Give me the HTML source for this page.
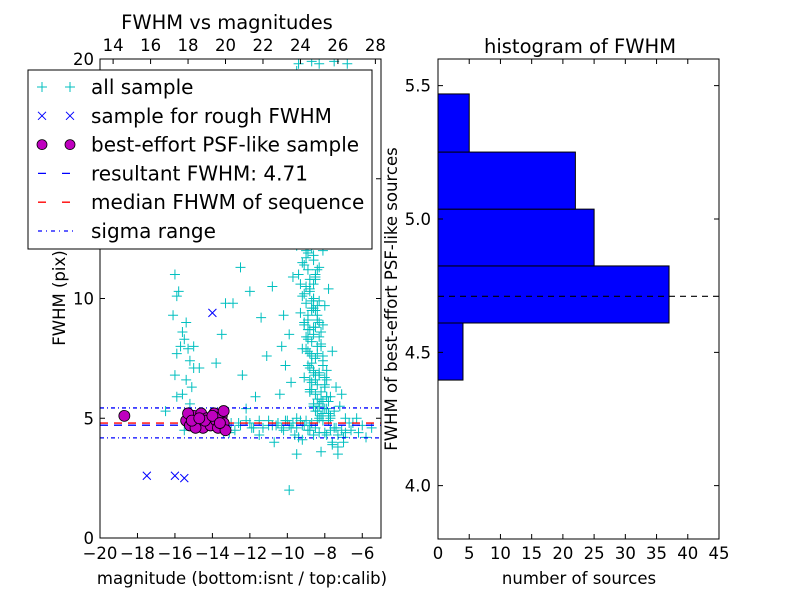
<!DOCTYPE html>
<html><head><meta charset="utf-8"><style>
body{margin:0;background:#fff;font-family:"Liberation Sans",sans-serif}
svg{display:block}
text{font-family:"DejaVu Sans","Liberation Sans",sans-serif}
</style></head><body>
<svg id="s" width="800" height="600">
<rect width="800" height="600" fill="#fff"/>
</svg>
<script>
const allMag=[-9.4,-9.5,-8.7,-8.3,-9.3,-9.1,-9.0,-9.3,-8.9,-9.2,-9.0,-8.8,-9.3,-9.1,-8.7,-9.5,-9.0,-8.6,-9.2,-8.9,-9.4,-8.5,-9.0,-8.8,-9.2,-8.6,-9.0,-8.7,-9.3,-8.4,-8.9,-9.1,-8.6,-8.2,-9.0,-8.7,-8.4,-9.2,-8.8,-8.5,-8.1,-8.9,-8.6,-8.3,-9.1,-8.7,-8.4,-8.0,-8.8,-8.5,-8.2,-7.8,-8.6,-8.3,-7.9,-7.5,-8.1,-7.7,-7.2,-6.9,-7.4,-6.6,-6.2,-6.0,-7.0,-7.6,-8.2,-7.3,-9.5,-8.6,-9.8,-10.1,-10.4,-9.9,-10.2,-9.7,-10.0,-9.6,-10.5,-9.8,-10.3,-10.8,-11.1,-11.7,-11.4,-12.0,-11.2,-12.5,-12.9,-13.5,-13.8,-13.3,-12.4,-12.2,-11.5,-10.7,-9.9,-7.9,-7.6,-7.4,-7.1,-8.0,-7.8,-8.3,-8.1,-8.4,-8.2,-8.5,-8.0,-7.5,-6.8,
-13,-12.5,-12,-11.5,-11,-10.5,-10,-9.8,-9.5,-9.2,-9.0,-8.8,-10.2,-11.8,-12.8,-13.4,-14.5,-6.5,-7.8,-8.0,-6.3,-5.8,-5.5,-9.1,-8.9,-8.7,-8.5,-8.3,-8.1,-7.9,-7.7,-9.3,-8.6,-8.4,
-16,-15.8,-15.9,-16.1,-15.4,-15.6,-15.5,-15.7,-15.3,-15.9,-15.2,-15.0,-16.0,-15.4,-15.1,-15.6,-15.9,-15.2,-15.5,-16.5,-15.0,-14.7,
-8.9,-8.7,-9.1,-8.5,-8.8,-9.0,-8.6,-8.4,-8.8,-9.2,-8.7,-8.5,-8.9,-8.3,-8.6,
-8.8,-8.6,-8.4,-8.9,-8.7,-8.5,-8.3,-8.8,-8.6,-8.4,-8.2,-8.9,-8.7,-8.5,-8.3,-8.1,-8.8,-8.6,-8.4,-8.2,-8.0,-8.7,-8.5,-8.3,-8.1,-7.9,-8.6,-8.4,-8.2,-8.0,-7.8,-8.5,-8.3,-8.1,-7.9,-7.7,-8.4,-8.2,-8.0,-7.8,-7.6,-9.0,-8.9,-9.1,-8.8,-9.0,-8.7,-9.2,-8.9,-9.0,-8.8,
-10.5,-10.3,-10.1,-9.9,-9.7,-9.5,-9.3,-9.1,-8.9,-8.7,-8.5,-8.3,-8.1,-7.9,-7.7,-7.5,-7.3,-7.1,-6.9,-6.7,-11.3,-11.0,-10.8,-10.6,-12.2,-11.9,-12.6,-13.1,-9.6,-9.4,-9.2,-7.6,-7.3,-7.0,-6.8];
const allFwhm=[19.8,19.5,19.9,19.8,18,17,16.5,15.5,15,14.5,14,13.5,13.2,12.8,12.5,12.2,12,11.8,11.5,11.2,11,10.8,10.5,10.3,10.1,10,9.8,9.6,9.4,9.3,9.1,8.9,8.8,8.6,8.4,8.2,8.0,7.9,7.7,7.5,7.4,7.2,7.0,6.9,6.7,6.5,6.4,6.3,6.1,6.0,5.8,5.7,5.6,5.5,5.4,5.3,5.2,5.1,5.5,5.0,4.6,4.5,4.4,4.7,4.2,4.0,3.6,3.5,3.5,4.3,6.5,7.2,6.0,8.5,9.3,10.9,12.4,13.0,13.3,14.5,8.0,10.5,7.6,5.9,9.2,10.3,12.4,11.3,9.8,8.5,7.3,9.8,6.8,5.4,4.3,4.0,2.0,7.0,7.8,6.3,6.0,9.7,10.4,11.3,12.0,13.8,14.6,15.6,16.3,19.9,19.8,
4.8,4.7,4.8,4.9,4.7,4.8,4.9,4.6,5.0,4.7,4.9,4.5,4.5,4.6,4.5,4.4,4.8,4.8,4.9,4.4,5.0,4.2,4.6,9.0,8.3,7.6,6.8,9.9,8.9,6.6,5.9,10.6,11.6,
11.2,11.0,10.3,10.1,9.3,9.0,8.6,8.3,8.0,7.9,7.7,7.4,7.1,6.8,6.6,6.3,6.0,5.9,5.6,4.5,5.3,8.0,
7.1,8.7,9.5,10.2,11.0,6.2,7.9,9.6,5.3,6.6,13.0,12.1,10.9,8.4,5.0,
10.6,10.4,10.0,9.7,9.3,9.9,9.5,9.0,8.7,8.5,9.1,8.1,7.8,7.3,8.8,8.4,7.6,7.1,6.9,7.7,8.0,6.7,6.2,6.6,6.8,7.2,5.9,5.5,5.8,6.1,6.4,5.2,5.3,5.6,5.7,5.9,5.0,4.9,5.1,5.4,5.2,13.7,12.6,11.9,11.4,10.8,11.7,12.9,14.9,16.8,17.6,
4.7,4.8,4.6,4.9,4.7,4.8,4.6,4.9,4.7,4.5,4.8,4.6,4.4,4.9,4.3,4.5,4.6,4.3,4.5,4.4,4.8,4.6,4.9,4.7,4.7,4.9,4.6,4.8,4.4,4.3,4.2,4.1,3.9,3.8,4.0];
const roughMag=[-17.5,-16,-15.5,-14];
const roughFwhm=[2.6,2.6,2.5,9.4];
const bestMag=[-18.7,-15.4,-15.2,-15,-14.8,-14.6,-14.5,-14.3,-14.1,-13.9,-13.8,-13.7,-13.5,-13.4,-13.3,-15.3,-14.9,-14.4,-14.0,-13.6,-15.1,-13.4,-14.7];
const bestFwhm=[5.1,4.9,4.7,5.1,4.8,5.2,4.6,5.0,4.7,5.2,4.9,4.6,5.1,4.8,4.5,5.2,4.6,4.9,5.1,4.8,4.9,5.3,5.0];
const resultFwhm=4.71, medianFwhm=4.8, sigmaLo=4.18, sigmaHi=5.43;
const binEdges=[4.396,4.61,4.824,5.037,5.251,5.469];
const binCounts=[4,37,25,22,5];
const xTicksL=[-20,-18,-16,-14,-12,-10,-8,-6];
const topTicks=[14,16,18,20,22,24,26,28];
const yTicksL=[0,5,10,15,20];
const xTicksR=[0,5,10,15,20,25,30,35,40,45];
const yTicksR=[4.0,4.5,5.0,5.5];

const svg=document.getElementById('s');const NS='http://www.w3.org/2000/svg';
function mk(t,a,p){const e=document.createElementNS(NS,t);for(const k in a)e.setAttribute(k,a[k]);(p||svg).appendChild(e);return e;}
const L={x0:100,x1:381,y0:538,y1:59};
const sx=m=>L.x0+(m+20)*(L.x1-L.x0)/15;
const sy=f=>L.y0-f*(L.y0-L.y1)/20;
const stx=t=>sx(t-33.3);
const R={x0:438,x1:719,y0:539,y1:59};
const rx=c=>R.x0+c*(R.x1-R.x0)/45;
const ry=v=>R.y0-(v-3.8)*(R.y0-R.y1)/1.8;
const clipL=mk('clipPath',{id:'cl'});mk('rect',{x:L.x0,y:L.y1,width:L.x1-L.x0,height:L.y0-L.y1},clipL);
const gL=mk('g',{'clip-path':'url(#cl)'});

function hl(y,col,dash,name){const l=mk('line',{x1:L.x0,x2:L.x1,y1:y,y2:y,stroke:col,'stroke-width':1.3,'stroke-dasharray':dash},gL);}
allMag.forEach((m,i)=>{const x=sx(m),y=sy(allFwhm[i]);const p=mk('path',{d:`M${x-5},${y}h10M${x},${y-5}v10`,stroke:'#00bfbf','stroke-width':1},gL);});
hl(sy(sigmaHi),'#00f','4 3 1 3','sigma-upper-line');hl(sy(sigmaLo),'#00f','4 3 1 3','sigma-lower-line');
hl(sy(medianFwhm),'#f00','8 6','median-line');hl(sy(resultFwhm),'#00f','8 6','resultant-line');
roughMag.forEach((m,i)=>{const x=sx(m),y=sy(roughFwhm[i]);const p=mk('path',{d:`M${x-4},${y-4}l8,8M${x-4},${y+4}l8,-8`,stroke:'#00f','stroke-width':1},gL);});
bestMag.forEach((m,i)=>{const c=mk('circle',{cx:sx(m),cy:sy(bestFwhm[i]),r:5.5,fill:'#bf00bf',stroke:'#000','stroke-width':0.8},gL);});
mk('rect',{x:L.x0,y:L.y1,width:L.x1-L.x0,height:L.y0-L.y1,fill:'none',stroke:'#000'});
function txt(x,y,s,sz,anc,extra){const t=mk('text',Object.assign({x:x,y:y,'font-size':sz,'text-anchor':anc||'middle'},extra||{}));t.textContent=s;return t;}
xTicksL.forEach(t=>{const x=sx(t);mk('path',{d:`M${x},${L.y0}v-5`,stroke:'#000'});const e=txt(x,559,t<0?'\u2212'+(-t):t,16.5);});
topTicks.forEach(t=>{const x=stx(t);mk('path',{d:`M${x},${L.y1}v5`,stroke:'#000'});const e=txt(x,51,t,16.5);});
yTicksL.forEach(t=>{const y=sy(t);mk('path',{d:`M${L.x0},${y}h5M${L.x1},${y}h-5`,stroke:'#000'});const e=txt(94,y+6,t,16.5,'end');});
let e;
e=txt(227,29,'FWHM vs magnitudes',19.5);
e=txt(242,584,'magnitude (bottom:isnt / top:calib)',16.5);
e=txt(65,298,'FWHM (pix)',16.5,'middle',{transform:'rotate(-90 65 298)'});
const lg=mk('g',{});
mk('rect',{x:28,y:70,width:344,height:179,fill:'#fff',stroke:'#000'},lg);
const labels=['all sample','sample for rough FWHM','best-effort PSF-like sample','resultant FWHM: 4.71','median FHWM of sequence','sigma range'];
labels.forEach((s,i)=>{const y=87+i*28.8;
 if(i==0){[42,70].forEach(x=>mk('path',{d:`M${x-5},${y}h10M${x},${y-5}v10`,stroke:'#00bfbf'},lg));}
 if(i==1){[42,70].forEach(x=>mk('path',{d:`M${x-4},${y-4}l8,8M${x-4},${y+4}l8,-8`,stroke:'#00f'},lg));}
 if(i==2){[42,70].forEach(x=>mk('circle',{cx:x,cy:y,r:5,fill:'#bf00bf',stroke:'#000','stroke-width':0.8},lg));}
 if(i==3)mk('line',{x1:38,x2:76,y1:y,y2:y,stroke:'#00f','stroke-width':1.3,'stroke-dasharray':'8 16'},lg);
 if(i==4)mk('line',{x1:38,x2:76,y1:y,y2:y,stroke:'#f00','stroke-width':1.3,'stroke-dasharray':'8 16'},lg);
 if(i==5)mk('line',{x1:38,x2:76,y1:y,y2:y,stroke:'#00f','stroke-width':1.3,'stroke-dasharray':'4 4 1 4'},lg);
 const t=txt(91,y+7,s,20,'start');lg.appendChild(t);});
binCounts.forEach((c,i)=>{const y=ry(binEdges[i+1]),h=ry(binEdges[i])-y;const r=mk('rect',{x:rx(0),y:y,width:rx(c)-rx(0),height:h,fill:'#00f',stroke:'#000'});});
e=mk('line',{x1:R.x0,x2:R.x1,y1:ry(resultFwhm),y2:ry(resultFwhm),stroke:'#000','stroke-width':1.2,'stroke-dasharray':'6 5'});
mk('rect',{x:R.x0,y:R.y1,width:R.x1-R.x0,height:R.y0-R.y1,fill:'none',stroke:'#000'});
xTicksR.forEach(t=>{const x=rx(t);mk('path',{d:`M${x},${R.y0}v-5M${x},${R.y1}v5`,stroke:'#000'});const e=txt(x,559,t,16.5);});
yTicksR.forEach(t=>{const y=ry(t);mk('path',{d:`M${R.x0},${y}h5M${R.x1},${y}h-5`,stroke:'#000'});const e=txt(431,y+6,t.toFixed(1),16.5,'end');});
e=txt(580,53,'histogram of FWHM',19.5);
e=txt(579,584,'number of sources',16.5);
e=txt(397,299,'FWHM of best-effort PSF-like sources',16.5,'middle',{transform:'rotate(-90 397 299)'});
</script>
</body></html>
